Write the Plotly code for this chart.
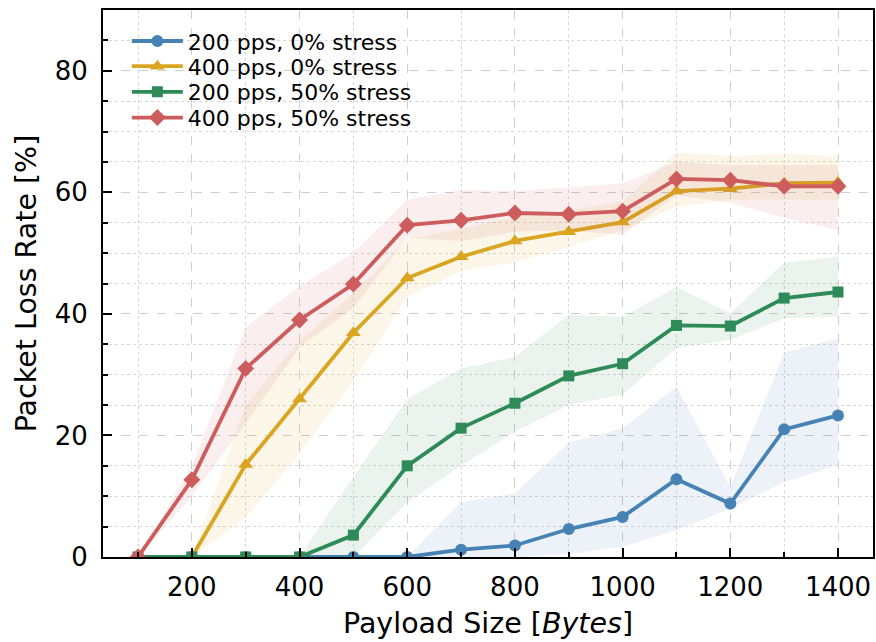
import plotly.graph_objects as go

payload = [100, 200, 300, 400, 500, 600, 700, 800, 900, 1000, 1100, 1200, 1300, 1400]

labels = ["200 pps, 0% stress", "400 pps, 0% stress", "200 pps, 50% stress", "400 pps, 50% stress"]
colors = ["#4682B4", "#DAA520", "#2E8B57", "#CD5C5C"]
symbols = ["circle", "triangle-up", "square", "diamond"]
msizes = [12, 13, 11, 13]

blue_mean = [0, 0, 0, 0, 0, 0, 1.2, 1.9, 4.6, 6.6, 12.8, 8.8, 21.0, 23.3]
blue_low = [0, 0, 0, 0, 0, 0, 0, 0, 0.5, 1.7, 4.4, 8.0, 12.3, 15.1]
blue_high = [0, 0, 0, 0, 0, 0, 9.0, 10.5, 18.8, 21.2, 28.0, 11.5, 33.6, 36.0]

yellow_mean = [0, 0, 15.2, 26.0, 36.9, 45.9, 49.4, 52.0, 53.5, 55.1, 60.2, 60.6, 61.5, 61.6]
yellow_low = [0, 0, 6.5, 17.0, 29.0, 42.8, 47.0, 48.5, 51.0, 53.8, 57.6, 58.8, 58.8, 58.8]
yellow_high = [0, 0, 25.0, 35.5, 43.4, 52.2, 54.0, 56.0, 57.0, 58.5, 66.5, 66.0, 66.3, 66.0]

green_mean = [0, 0, 0, 0, 3.6, 15.0, 21.2, 25.3, 29.8, 31.8, 38.1, 38.0, 42.6, 43.6]
green_low = [0, 0, 0, 0, 0, 9.0, 15.0, 20.6, 25.0, 26.7, 34.4, 35.7, 39.3, 39.5]
green_high = [0, 0, 0, 0, 13.2, 26.0, 31.0, 32.9, 39.8, 39.5, 44.4, 40.1, 48.4, 49.4]

red_mean = [0, 12.7, 31.0, 39.0, 44.9, 54.6, 55.4, 56.6, 56.4, 56.9, 62.2, 62.0, 61.0, 61.0]
red_low = [0, 10.0, 22.0, 34.5, 41.0, 52.5, 52.0, 53.5, 53.8, 53.0, 59.5, 58.3, 55.8, 53.8]
red_high = [0, 15.0, 37.8, 44.5, 50.0, 58.8, 60.4, 60.2, 60.8, 61.5, 65.0, 64.5, 64.5, 64.5]

series = [
    (blue_mean, blue_low, blue_high),
    (yellow_mean, yellow_low, yellow_high),
    (green_mean, green_low, green_high),
    (red_mean, red_low, red_high),
]

legend_ids = ["legend", "legend2", "legend3", "legend4"]
legend_rows = [0.943, 0.897, 0.850, 0.803]


def rgba(hexc, a):
    h = hexc.lstrip("#")
    r, g, b = int(h[0:2], 16), int(h[2:4], 16), int(h[4:6], 16)
    return f"rgba({r},{g},{b},{a})"


fig = go.Figure()
for (mean, low, high), lab, col, sym, ms, lid in zip(series, labels, colors, symbols, msizes, legend_ids):
    fig.add_trace(go.Scatter(x=payload, y=low, mode="lines", line=dict(width=0),
                             showlegend=False, hoverinfo="skip"))
    fig.add_trace(go.Scatter(x=payload, y=high, mode="lines", line=dict(width=0),
                             fill="tonexty", fillcolor=rgba(col, 0.1),
                             showlegend=False, hoverinfo="skip"))
    fig.add_trace(go.Scatter(x=payload, y=mean, mode="lines+markers", name=lab,
                             legend=lid,
                             line=dict(color=col, width=3.8),
                             marker=dict(symbol=sym, size=ms, color=col)))

axis_common = dict(
    showline=True, linecolor="black", linewidth=2, mirror=True,
    ticks="inside", ticklen=9, tickwidth=2, tickcolor="black",
    showgrid=True, gridcolor="rgba(195,195,195,0.8)", gridwidth=1, griddash="dash",
    zeroline=False, automargin=False,
    tickfont=dict(family="DejaVu Sans", size=26, color="black"),
)

fig.update_xaxes(
    range=[35, 1465], tickmode="linear", tick0=200, dtick=200,
    ticklabelstandoff=6,
    title=dict(text="Payload Size [<i>Bytes</i>]", font=dict(family="DejaVu Sans", size=28.5, color="black"), standoff=12),
    minor=dict(dtick=100, tick0=100, ticks="inside", ticklen=5, tickcolor="black",
               showgrid=True, gridcolor="rgba(205,205,205,0.8)", griddash="dot", gridwidth=1),
    **axis_common,
)
fig.update_yaxes(
    range=[0, 90], tickmode="linear", tick0=0, dtick=20,
    ticklabelstandoff=8,
    title=dict(text="Packet Loss Rate [%]", font=dict(family="DejaVu Sans", size=28.5, color="black"), standoff=10),
    minor=dict(dtick=5, ticks="inside", ticklen=5, tickcolor="black",
               showgrid=True, gridcolor="rgba(205,205,205,0.8)", griddash="dot", gridwidth=1),
    **axis_common,
)

layout_legends = {}
for lid, ly in zip(legend_ids, legend_rows):
    layout_legends[lid] = dict(x=0.031, y=ly, xanchor="left", yanchor="middle",
                               bgcolor="rgba(255,255,255,0)",
                               font=dict(family="DejaVu Sans", size=22, color="black"),
                               itemwidth=51)

fig.update_layout(
    width=876, height=642,
    margin=dict(l=103, r=3, t=10, b=85),
    plot_bgcolor="white", paper_bgcolor="white",
    font=dict(family="DejaVu Sans", color="black"),
    **layout_legends,
)

fig.write_html("out.html")
